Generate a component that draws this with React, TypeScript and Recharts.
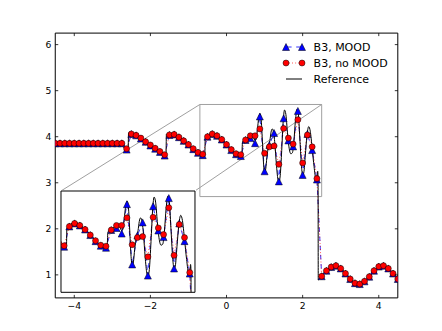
import React from "react";
import {
  Legend,
  Line,
  LineChart,
  ReferenceArea,
  ReferenceLine,
  XAxis,
  YAxis,
} from "recharts";

// Cell centres where the two B3 runs put a marker.
const MARKER_X = [
  -4.5, -4.375, -4.25, -4.125, -4, -3.875, -3.75, -3.625, -3.5, -3.375, -3.25,
  -3.125, -3, -2.875, -2.75, -2.625, -2.5, -2.375, -2.25, -2.125, -2, -1.875,
  -1.75, -1.625, -1.5, -1.375, -1.25, -1.125, -1, -0.875, -0.75, -0.625, -0.5,
  -0.375, -0.25, -0.125, 0, 0.125, 0.25, 0.375, 0.5, 0.625, 0.75, 0.875, 1,
  1.125, 1.25, 1.375, 1.5, 1.625, 1.75, 1.875, 2, 2.125, 2.25, 2.375, 2.5,
  2.625, 2.75, 2.875, 3, 3.125, 3.25, 3.375, 3.5, 3.625, 3.75, 3.875, 4,
  4.125, 4.25, 4.375, 4.5,
];

const MOOD_Y = [
  3.857, 3.857, 3.857, 3.857, 3.857, 3.857, 3.857, 3.857, 3.857, 3.857, 3.857,
  3.857, 3.857, 3.857, 3.857, 3.72, 4.06, 4.03, 3.96, 3.89, 3.81, 3.74, 3.67,
  3.59, 4.04, 4.05, 3.99, 3.91, 3.83, 3.73, 3.65, 3.6, 4.0, 4.06, 4.02, 3.94,
  3.83, 3.71, 3.62, 3.58, 3.93, 3.97, 3.86, 4.44, 3.25, 3.82, 4.08, 3.03, 4.4,
  3.92, 3.79, 4.56, 3.17, 4.06, 3.71, 3.07, 0.97, 1.09, 1.17, 1.2, 1.14, 1.03,
  0.91, 0.82, 0.8, 0.86, 0.96, 1.09, 1.18, 1.2, 1.14, 1.03, 0.91,
];

const NO_MOOD_Y = [
  3.857, 3.857, 3.857, 3.857, 3.857, 3.857, 3.857, 3.857, 3.857, 3.857, 3.857,
  3.857, 3.857, 3.857, 3.857, 3.74, 4.06, 4.03, 3.97, 3.89, 3.82, 3.75, 3.68,
  3.61, 4.04, 4.05, 3.99, 3.91, 3.83, 3.74, 3.66, 3.62, 4.0, 4.06, 4.02, 3.94,
  3.83, 3.72, 3.63, 3.61, 3.93, 4.02, 4.02, 4.17, 3.64, 3.78, 3.8, 3.4, 4.18,
  3.97, 3.84, 4.37, 3.43, 4.04, 3.78, 3.09, 0.97, 1.09, 1.17, 1.2, 1.14, 1.03,
  0.91, 0.82, 0.8, 0.86, 0.96, 1.09, 1.18, 1.2, 1.14, 1.03, 0.91,
];

// Fine reference solution.
const REF_X = [
  -4.5, -2.85, -2.78, -2.72, -2.66, -2.61, -2.585, -2.575, -2.55, -2.5, -2.375,
  -2.25, -2.125, -2, -1.875, -1.75, -1.625, -1.59, -1.58, -1.55, -1.45, -1.375,
  -1.25, -1.125, -1, -0.875, -0.75, -0.625, -0.57, -0.56, -0.5, -0.42, -0.35,
  -0.27, -0.2, -0.125, 0, 0.125, 0.25, 0.33, 0.4, 0.42, 0.46, 0.54, 0.6, 0.65,
  0.7, 0.75, 0.78, 0.81, 0.845, 0.88, 0.91, 0.94, 0.97, 1, 1.03, 1.06, 1.1,
  1.14, 1.17, 1.2, 1.23, 1.27, 1.31, 1.35, 1.38, 1.41, 1.45, 1.49, 1.525, 1.56,
  1.6, 1.64, 1.69, 1.73, 1.77, 1.81, 1.855, 1.89, 1.93, 1.97, 2, 2.03, 2.07,
  2.11, 2.16, 2.2, 2.25, 2.3, 2.35, 2.38, 2.395, 2.405, 2.41, 2.5, 2.625, 2.75,
  2.86, 3, 3.125, 3.25, 3.375, 3.48, 3.625, 3.75, 3.875, 4, 4.11, 4.25, 4.375,
  4.5,
];

const REF_Y = [
  3.857, 3.857, 3.84, 3.79, 3.73, 3.68, 3.67, 4.08, 4.1, 4.08, 4.03, 3.97, 3.89,
  3.82, 3.75, 3.67, 3.6, 3.58, 4.05, 4.07, 4.07, 4.05, 3.99, 3.91, 3.83, 3.74,
  3.66, 3.61, 3.59, 3.95, 4.02, 4.07, 4.08, 4.05, 4.0, 3.95, 3.84, 3.72, 3.63,
  3.59, 3.59, 3.88, 3.93, 3.97, 4.02, 4.04, 4.0, 3.92, 3.95, 4.15, 4.4, 4.5,
  4.38, 3.95, 3.45, 3.23, 3.3, 3.55, 3.78, 3.92, 4.1, 4.17, 4.12, 3.85, 3.4,
  3.08, 3.02, 3.15, 3.7, 4.35, 4.58, 4.48, 4.1, 3.78, 3.63, 3.65, 3.9, 4.35,
  4.6, 4.47, 3.9, 3.35, 3.17, 3.22, 3.6, 4.0, 4.22, 4.12, 3.75, 3.35, 3.08,
  3.1, 3.25, 3.12, 0.89, 0.97, 1.09, 1.17, 1.2, 1.14, 1.03, 0.91, 0.82, 0.8,
  0.86, 0.96, 1.09, 1.18, 1.2, 1.14, 1.03, 0.91,
];

const SERIES_NAMES = ["B3, MOOD", "B3, no MOOD", "Reference"];

const X_TICKS = [-4, -2, 0, 2, 4];
const X_TICK_LABELS = ["\u22124", "\u22122", "0", "2", "4"];
const Y_TICKS = [1, 2, 3, 4, 5, 6];

const ZOOM_X_TICKS = [-0.5, 0, 0.5, 1, 1.5, 2];
const ZOOM_Y_TICKS = [3, 3.5, 4, 4.5];

const markerData = MARKER_X.map((x, i) => ({
  x,
  mood: MOOD_Y[i],
  noMood: NO_MOOD_Y[i],
}));
const refData = REF_X.map((x, i) => ({ x, y: REF_Y[i] }));

// Layout: matplotlib-like axes box inside a 442x331 figure.
const W = 442;
const H = 331;
const PLOT = { left: 55.25, top: 33.1, right: 397.8, bottom: 297.9 };
const X_DOMAIN: [number, number] = [-4.5, 4.5];
const Y_DOMAIN: [number, number] = [0.5, 6.25];
const ZOOM_X: [number, number] = [-0.7, 2.5];
const ZOOM_Y: [number, number] = [2.7, 4.7];
const ZOOM = 1.1;
const INSET_PAD = 5.5;
const TICK_LEN = 3;
const FONT = "DejaVu Sans, sans-serif";
const FRAME_GRAY = "#a0a0a0";

const pxPerX = (PLOT.right - PLOT.left) / (X_DOMAIN[1] - X_DOMAIN[0]);
const pxPerY = (PLOT.bottom - PLOT.top) / (Y_DOMAIN[1] - Y_DOMAIN[0]);
const toDataX = (px: number) => X_DOMAIN[0] + (px - PLOT.left) / pxPerX;
const toDataY = (py: number) => Y_DOMAIN[1] - (py - PLOT.top) / pxPerY;

const INSET_W = (ZOOM_X[1] - ZOOM_X[0]) * pxPerX * ZOOM;
const INSET_H = (ZOOM_Y[1] - ZOOM_Y[0]) * pxPerY * ZOOM;
const INSET_LEFT = PLOT.left + INSET_PAD;
const INSET_TOP = PLOT.bottom - INSET_PAD - INSET_H;

function Triangle({ cx, cy, s = 3.5 }: { cx: number; cy: number; s?: number }) {
  return (
    <polygon
      points={`${cx},${cy - s} ${cx - s},${cy + s} ${cx + s},${cy + s}`}
      fill="#0000ff"
      stroke="#000"
      strokeWidth={0.5}
    />
  );
}

const renderTriangle = (p: any) => {
  if (p.cx == null || p.cy == null) return <g key={`t-${p.index}`} />;
  return (
    <g key={`t-${p.index}`}>
      <Triangle cx={p.cx} cy={p.cy} />
    </g>
  );
};

const renderCircle = (p: any) => {
  if (p.cx == null || p.cy == null) return <g key={`c-${p.index}`} />;
  return (
    <circle
      key={`c-${p.index}`}
      cx={p.cx}
      cy={p.cy}
      r={3}
      fill="#ff0000"
      stroke="#000"
      strokeWidth={0.5}
    />
  );
};

function MainXTick({ x, payload }: any) {
  const label = X_TICK_LABELS[X_TICKS.indexOf(payload.value)];
  return (
    <g>
      <line x1={x} x2={x} y1={PLOT.bottom} y2={PLOT.bottom - TICK_LEN} stroke="#000" strokeWidth={0.8} />
      <line x1={x} x2={x} y1={PLOT.top} y2={PLOT.top + TICK_LEN} stroke="#000" strokeWidth={0.8} />
      <text x={x} y={PLOT.bottom + 10.8} textAnchor="middle" fontSize={9.2} fontFamily={FONT} fill="#000">
        {label}
      </text>
    </g>
  );
}

function MainYTick({ y, payload }: any) {
  return (
    <g>
      <line x1={PLOT.left} x2={PLOT.left + TICK_LEN} y1={y} y2={y} stroke="#000" strokeWidth={0.8} />
      <line x1={PLOT.right} x2={PLOT.right - TICK_LEN} y1={y} y2={y} stroke="#000" strokeWidth={0.8} />
      <text x={PLOT.left - 3.8} y={y + 3.3} textAnchor="end" fontSize={9.2} fontFamily={FONT} fill="#000">
        {payload.value}
      </text>
    </g>
  );
}

// Inset chart has a 1px margin all round.
function InsetXTick({ x }: any) {
  return (
    <g>
      <line x1={x} x2={x} y1={1 + INSET_H} y2={1 + INSET_H - TICK_LEN} stroke="#000" strokeWidth={0.8} />
      <line x1={x} x2={x} y1={1} y2={1 + TICK_LEN} stroke="#000" strokeWidth={0.8} />
    </g>
  );
}

function InsetYTick({ y }: any) {
  return (
    <g>
      <line x1={1} x2={1 + TICK_LEN} y1={y} y2={y} stroke="#000" strokeWidth={0.8} />
      <line x1={1 + INSET_W} x2={1 + INSET_W - TICK_LEN} y1={y} y2={y} stroke="#000" strokeWidth={0.8} />
    </g>
  );
}

function LegendContent() {
  const rows = [10, 26, 42];
  const x1 = 8;
  const x2 = 24;
  return (
    <svg width={130} height={52} style={{ display: "block", overflow: "visible" }}>
      <line x1={x1} x2={x2} y1={rows[0]} y2={rows[0]} stroke="#0000ff" strokeWidth={0.8} strokeDasharray="4.6 4.6" strokeDashoffset={-1} />
      <Triangle cx={x1} cy={rows[0]} />
      <Triangle cx={x2} cy={rows[0]} />
      <line x1={x1} x2={x2} y1={rows[1]} y2={rows[1]} stroke="#ff0000" strokeWidth={0.8} strokeDasharray="0.8 2.3" />
      <circle cx={x1} cy={rows[1]} r={3} fill="#ff0000" stroke="#000" strokeWidth={0.5} />
      <circle cx={x2} cy={rows[1]} r={3} fill="#ff0000" stroke="#000" strokeWidth={0.5} />
      <line x1={x1} x2={x2} y1={rows[2]} y2={rows[2]} stroke="#000" strokeWidth={1} />
      {SERIES_NAMES.map((name, i) => (
        <text key={name} x={35.6} y={rows[i] + 4} fontSize={11} fontFamily={FONT} fill="#000">
          {name}
        </text>
      ))}
    </svg>
  );
}

export default function App() {
  return (
    <div
      style={{
        position: "absolute",
        left: 0,
        top: 0,
        width: W,
        height: H,
        background: "#fff",
        fontFamily: FONT,
      }}
    >
      <LineChart
        width={W}
        height={H}
        margin={{ top: PLOT.top, right: W - PLOT.right, bottom: H - PLOT.bottom - 30, left: PLOT.left - 40 }}
      >
        <XAxis
          dataKey="x"
          type="number"
          domain={X_DOMAIN}
          ticks={X_TICKS}
          allowDataOverflow
          interval={0}
          height={30}
          axisLine={false}
          tickLine={false}
          tickSize={0}
          tickMargin={0}
          tick={<MainXTick />}
        />
        <YAxis
          type="number"
          domain={Y_DOMAIN}
          ticks={Y_TICKS}
          allowDataOverflow
          interval={0}
          width={40}
          axisLine={false}
          tickLine={false}
          tickSize={0}
          tickMargin={0}
          tick={<MainYTick />}
        />
        <ReferenceArea
          x1={ZOOM_X[0]}
          x2={ZOOM_X[1]}
          y1={ZOOM_Y[0]}
          y2={ZOOM_Y[1]}
          fill="none"
          fillOpacity={0}
          stroke={FRAME_GRAY}
          strokeWidth={1}
        />
        <ReferenceLine
          segment={[
            { x: toDataX(INSET_LEFT), y: toDataY(INSET_TOP) },
            { x: ZOOM_X[0], y: ZOOM_Y[1] },
          ]}
          stroke={FRAME_GRAY}
          strokeWidth={1}
        />
        <ReferenceLine
          segment={[
            { x: toDataX(INSET_LEFT + INSET_W), y: toDataY(INSET_TOP) },
            { x: ZOOM_X[1], y: ZOOM_Y[1] },
          ]}
          stroke={FRAME_GRAY}
          strokeWidth={1}
        />
        <Line
          data={markerData}
          dataKey="mood"
          name={SERIES_NAMES[0]}
          type="linear"
          stroke="#0000ff"
          strokeWidth={0.8}
          strokeDasharray="4.6 4.6"
          dot={renderTriangle}
          activeDot={false}
          isAnimationActive={false}
        />
        <Line
          data={markerData}
          dataKey="noMood"
          name={SERIES_NAMES[1]}
          type="linear"
          stroke="#ff0000"
          strokeWidth={0.8}
          strokeDasharray="0.8 2.3"
          dot={renderCircle}
          activeDot={false}
          isAnimationActive={false}
        />
        <Line
          data={refData}
          dataKey="y"
          name={SERIES_NAMES[2]}
          type="monotone"
          stroke="#000"
          strokeWidth={1}
          dot={false}
          activeDot={false}
          isAnimationActive={false}
        />
        <ReferenceArea
          x1={X_DOMAIN[0]}
          x2={X_DOMAIN[1]}
          y1={Y_DOMAIN[0]}
          y2={Y_DOMAIN[1]}
          fill="none"
          fillOpacity={0}
          stroke="#000"
          strokeWidth={1}
        />
        <Legend
          verticalAlign="middle"
          layout="horizontal"
          content={<LegendContent />}
          wrapperStyle={{ left: 277.7, top: 37, width: 130, height: 52 }}
        />
      </LineChart>

      <div
        style={{
          position: "absolute",
          left: INSET_LEFT - 1,
          top: INSET_TOP - 1,
          width: INSET_W + 2,
          height: INSET_H + 2,
          background: "#fff",
        }}
      >
        <LineChart width={INSET_W + 2} height={INSET_H + 2} margin={{ top: 1, right: 1, bottom: 1, left: 1 }}>
          <XAxis
            dataKey="x"
            type="number"
            domain={ZOOM_X}
            ticks={ZOOM_X_TICKS}
            allowDataOverflow
            interval={0}
            height={0}
            axisLine={false}
            tickLine={false}
            tickSize={0}
            tickMargin={0}
            tick={<InsetXTick />}
          />
          <YAxis
            type="number"
            domain={ZOOM_Y}
            ticks={ZOOM_Y_TICKS}
            allowDataOverflow
            interval={0}
            width={0}
            axisLine={false}
            tickLine={false}
            tickSize={0}
            tickMargin={0}
            tick={<InsetYTick />}
          />
          <Line
            data={markerData}
            dataKey="mood"
            type="linear"
            stroke="#0000ff"
            strokeWidth={0.8}
            strokeDasharray="4.6 4.6"
            dot={renderTriangle}
            activeDot={false}
            isAnimationActive={false}
          />
          <Line
            data={markerData}
            dataKey="noMood"
            type="linear"
            stroke="#ff0000"
            strokeWidth={0.8}
            strokeDasharray="0.8 2.3"
            dot={renderCircle}
            activeDot={false}
            isAnimationActive={false}
          />
          <Line
            data={refData}
            dataKey="y"
            type="monotone"
            stroke="#000"
            strokeWidth={1}
            dot={false}
            activeDot={false}
            isAnimationActive={false}
          />
          <ReferenceArea
            x1={ZOOM_X[0]}
            x2={ZOOM_X[1]}
            y1={ZOOM_Y[0]}
            y2={ZOOM_Y[1]}
            fill="none"
            fillOpacity={0}
            stroke="#000"
            strokeWidth={1}
          />
        </LineChart>
      </div>
    </div>
  );
}
